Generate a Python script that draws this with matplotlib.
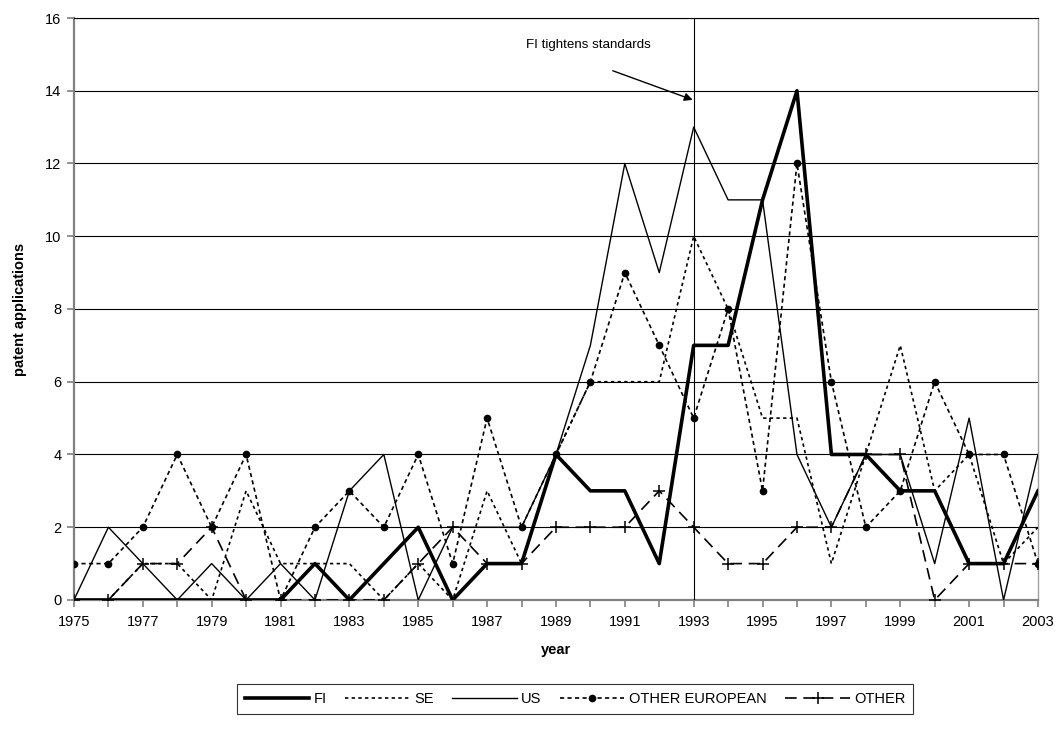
import numpy as np
import matplotlib.pyplot as plt
from matplotlib.ticker import MultipleLocator

plt.rcParams['font.family'] = ['Liberation Sans', 'DejaVu Sans']

years = np.arange(1975, 2004)
fi = [0, 0, 0, 0, 0, 0, 0, 1, 0, 1, 2, 0, 1, 1, 4, 3, 3, 1, 7, 7, 11, 14, 4, 4, 3, 3, 1, 1, 3]
se = [0, 0, 1, 1, 0, 3, 1, 1, 1, 0, 1, 0, 3, 1, 4, 6, 6, 6, 10, 8, 5, 5, 1, 4, 7, 3, 4, 1, 2]
us = [0, 2, 1, 0, 1, 0, 1, 0, 3, 4, 0, 2, 2, 2, 4, 7, 12, 9, 13, 11, 11, 4, 2, 4, 4, 1, 5, 0, 4]
other_eu = [1, 1, 2, 4, 2, 4, 0, 2, 3, 2, 4, 1, 5, 2, 4, 6, 9, 7, 5, 8, 3, 12, 6, 2, 3, 6, 4, 4, 1]
other = [0, 0, 1, 1, 2, 0, 0, 0, 0, 0, 1, 2, 1, 1, 2, 2, 2, 3, 2, 1, 1, 2, 2, 4, 4, 0, 1, 1, 1]
year_labels = years[::2]

fig = plt.figure(figsize=(10.61, 7.29), dpi=100)
ax = fig.add_axes([0.0697, 0.177, 0.9086, 0.7983])

ax.plot(years, fi, color='black', lw=2.6, label='FI', zorder=5)
ax.plot(years, se, color='black', lw=1.2, ls=(0, (2, 2)), label='SE', zorder=4)
ax.plot(years, us, color='black', lw=1.0, label='US', zorder=4)
ax.plot(years, other_eu, color='black', lw=1.2, ls=(0, (2.5, 2)), marker='o', ms=4.5,
        label='OTHER EUROPEAN', zorder=4)
ax.plot(years, other, color='black', lw=1.2, ls=(0, (7, 4)), marker='+', ms=9, mew=1.1,
        label='OTHER', zorder=4)

ax.axvline(1993, color='black', lw=0.8, zorder=3)
ax.text(1989.95, 15.25, 'FI tightens standards', ha='center', va='center', fontsize=9.6)
ax.annotate('', xy=(1992.97, 13.75), xytext=(1990.65, 14.55),
            arrowprops=dict(arrowstyle='-|>', color='black', lw=1, mutation_scale=12,
                            shrinkA=0, shrinkB=0))

ax.set_xlim(1975, 2003)
ax.set_ylim(0, 16)
ax.set_xticks(year_labels)
ax.xaxis.set_minor_locator(MultipleLocator(1))
ax.yaxis.set_major_locator(MultipleLocator(2))
ax.yaxis.grid(True, color='black', lw=0.8)
ax.set_axisbelow(True)

for s in ['left', 'bottom']:
    ax.spines[s].set_color('#808080')
    ax.spines[s].set_linewidth(1.6)
ax.spines['right'].set_color('#a0a0a0')
ax.spines['right'].set_linewidth(1.0)
ax.spines['top'].set_color('black')
ax.spines['top'].set_linewidth(0.8)

ax.tick_params(axis='both', which='both', direction='out', color='#808080', width=1.2,
               labelsize=10.5)
ax.tick_params(axis='x', which='both', length=5, pad=6)
ax.tick_params(axis='y', length=5, pad=4)

ax.set_xlabel('year', fontweight='bold', fontsize=10.5, labelpad=10)
ax.set_ylabel('patent applications', fontweight='bold', fontsize=10.5, labelpad=13)

leg = fig.legend(loc='center', bbox_to_anchor=(0.542, 0.0405), ncol=5, frameon=True,
                 fancybox=False, edgecolor='black', fontsize=10.5, handlelength=4.4,
                 columnspacing=1.3, handletextpad=0.3, borderpad=0.55)
leg.get_frame().set_linewidth(0.8)

fig.savefig('out.png', dpi=100)
